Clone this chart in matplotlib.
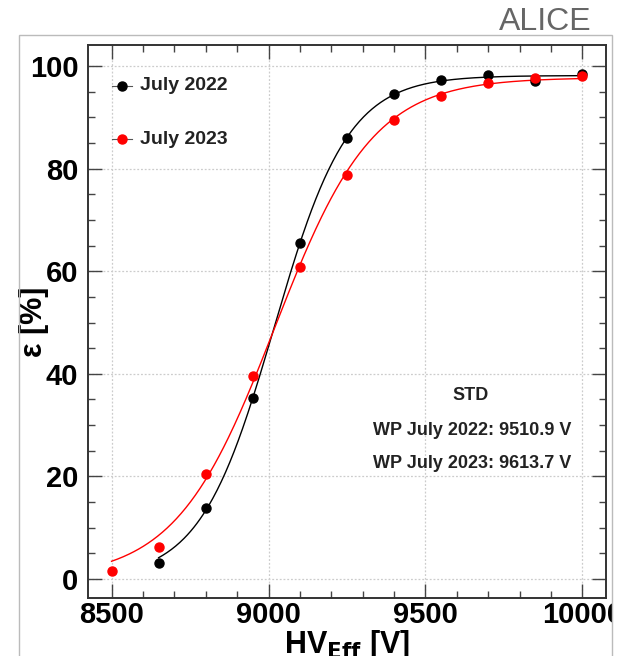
import numpy as np
import matplotlib
matplotlib.use("Agg")
import matplotlib.pyplot as plt
from matplotlib.ticker import MultipleLocator
from matplotlib.patches import Rectangle
from matplotlib.transforms import Bbox

plt.rcParams['font.family'] = ['Liberation Sans', 'DejaVu Sans']

hv_2022 = [8650, 8800, 8950, 9100, 9250, 9400, 9550, 9700, 9850, 10000]
eff_2022 = [3.2, 13.9, 35.3, 65.5, 86.0, 94.6, 97.3, 98.2, 97.1, 98.4]
hv_2023 = [8500, 8650, 8800, 8950, 9100, 9250, 9400, 9550, 9700, 9850, 10000]
eff_2023 = [1.6, 6.3, 20.5, 39.6, 60.9, 78.7, 89.5, 94.2, 96.6, 97.7, 98.0]
labels = ["July 2022", "July 2023"]
colors = ["black", "red"]
wp_text = ["STD", "WP July 2022: 9510.9 V", "WP July 2023: 9613.7 V"]


def fit_sigmoid(x, y):
    x = np.asarray(x, float)
    y = np.asarray(y, float)
    best = None
    for x0 in np.arange(8900, 9200, 1.0):
        for k in np.arange(30, 200, 1.0):
            s = 1.0 / (1.0 + np.exp(-(x - x0) / k))
            a = np.sum(y * s) / np.sum(s * s)
            r = np.sum((y - a * s) ** 2)
            if best is None or r < best[0]:
                best = (r, a, x0, k)
    return best[1:]


W, H = 621, 656
fig = plt.figure(figsize=(W / 100, H / 100), dpi=100)

# outer grey frame of the canvas
fig.add_artist(Rectangle((19 / W, -0.05), (612 - 19) / W, 1.05 - 35 / H,
                         transform=fig.transFigure, fill=False,
                         edgecolor="#bbbbbb", lw=1.0))
fig.text(592 / W, 1 - 22 / H, "ALICE", ha="right", va="center",
         fontsize=23, color="#666666")

ax = fig.add_axes([88 / W, 1 - 598 / H, (606 - 88) / W, (598 - 45) / H])
ax.set_xlim(8425, 10075)
ax.set_ylim(-3.7, 104.1)

for hv, eff, c in [(hv_2022, eff_2022, colors[0]), (hv_2023, eff_2023, colors[1])]:
    a, x0, k = fit_sigmoid(hv, eff)
    xx = np.linspace(min(hv), max(hv), 400)
    ax.plot(xx, a / (1 + np.exp(-(xx - x0) / k)), color=c, lw=1.0, zorder=3)
    ax.plot(hv, eff, "o", color=c, ms=6.5, zorder=4, clip_on=False)

ax.xaxis.set_major_locator(MultipleLocator(500))
ax.xaxis.set_minor_locator(MultipleLocator(100))
ax.yaxis.set_major_locator(MultipleLocator(20))
ax.yaxis.set_minor_locator(MultipleLocator(5))
ax.grid(True, which="major", ls=(0, (1.5, 1.5)), color="#cccccc", lw=0.9)
ax.tick_params(which="both", direction="in", top=True, right=True,
               labelsize=21, width=1.0, color="#444444")
ax.tick_params(which="major", length=10)
ax.tick_params(axis="x", which="major", pad=2)
ax.tick_params(axis="y", which="major", pad=7)
ax.tick_params(which="minor", length=5)
for lab in ax.get_xticklabels() + ax.get_yticklabels():
    lab.set_fontweight("bold")
for sp in ax.spines.values():
    sp.set_linewidth(1.4)
    sp.set_color("#333333")

# clip tick labels to the outer frame (as in the cropped original)
clipbox = Bbox.from_extents(19, 0, 612, H - 35)
fig.canvas.draw()
for lab in ax.get_xticklabels():
    lab.set_clip_box(clipbox)
    lab.set_clip_on(True)

ax.set_xlabel(r"HV$_{\mathbf{Eff}}$ [V]", fontsize=22, fontweight="bold")
ax.xaxis.set_label_coords(0.5, -0.055)
ax.xaxis.label.set_va("top")
ax.set_ylabel("ε [%]", fontsize=22, fontweight="bold")
ax.yaxis.set_label_coords(-0.075, 0.5)

# legend
for i, (lab, c) in enumerate(zip(labels, colors)):
    yy = 1 - (86 + 53 * i - 45) / (598 - 45)
    ax.plot([(112 - 88) / (606 - 88), (132 - 88) / (606 - 88)], [yy, yy],
            color="#555555", lw=0.8, transform=ax.transAxes, zorder=5)
    ax.plot([(122 - 88) / (606 - 88)], [yy], "o", color=c, ms=6.5,
            transform=ax.transAxes, zorder=6)
    ax.text((140 - 88) / (606 - 88), yy, lab, transform=ax.transAxes,
            fontsize=14, fontweight="bold", va="center", ha="left", color="#222222")

for i, t in enumerate(wp_text):
    yy = 1 - (396 + 34 * i - 45) / (598 - 45)
    if i == 0:
        ax.text((471 - 88) / (606 - 88), yy, t, transform=ax.transAxes,
                fontsize=13, fontweight="bold", ha="center", va="center", color="#222222")
    else:
        ax.text((571 - 88) / (606 - 88), yy, t, transform=ax.transAxes,
                fontsize=13, fontweight="bold", ha="right", va="center", color="#222222")

fig.savefig("out.png", dpi=100)
